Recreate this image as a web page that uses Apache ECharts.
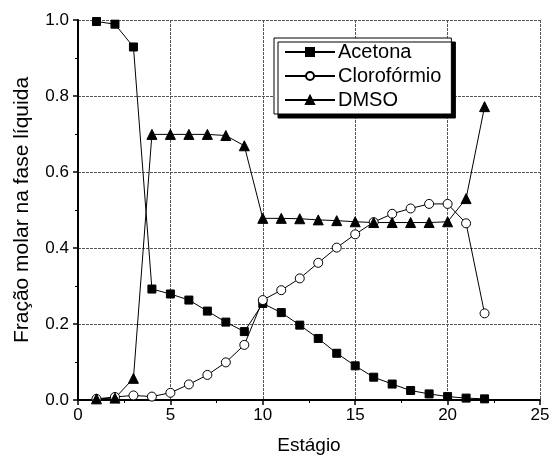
<!DOCTYPE html>
<html>
<head>
<meta charset="utf-8">
<script src="https://cdn.jsdelivr.net/npm/echarts@6/dist/echarts.min.js"></script>
<style>html,body{margin:0;padding:0;background:#fff}#c{width:554px;height:462px}</style>
</head>
<body>
<div id="c"></div>
<script>
const stages = [1,2,3,4,5,6,7,8,9,10,11,12,13,14,15,16,17,18,19,20,21,22];
const acetona = [0.996,0.989,0.929,0.292,0.279,0.263,0.234,0.205,0.180,0.254,0.230,0.197,0.162,0.123,0.090,0.060,0.042,0.025,0.016,0.009,0.005,0.003];
const cloroformio = [0.003,0.008,0.012,0.009,0.019,0.041,0.066,0.099,0.145,0.263,0.289,0.320,0.361,0.401,0.436,0.468,0.490,0.504,0.516,0.516,0.465,0.228];
const dmso = [0.003,0.005,0.057,0.699,0.699,0.699,0.699,0.696,0.669,0.478,0.478,0.477,0.474,0.472,0.469,0.467,0.467,0.467,0.467,0.469,0.530,0.772];
const xTicks = [0,5,10,15,20,25];
const yTicks = [0,0.2,0.4,0.6,0.8,1.0];

const font = 'Liberation Sans, Arial, sans-serif';
function pairs(ys){ return stages.map((s,i)=>[s, ys[i]]); }

const chart = echarts.init(document.getElementById('c'), null, {renderer:'canvas'});
const gridLine = {show:true, lineStyle:{color:'#555', width:1, type:[3,1]}};
chart.setOption({
  animation:false,
  backgroundColor:'#fff',
  grid:{left:78, right:14, top:20, bottom:62},
  legend:{
    left:274, top:38, orient:'vertical',
    itemWidth:50, itemHeight:10, itemGap:4,
    padding:[4,10,4,10],
    backgroundColor:'#fff', borderColor:'#000', borderWidth:1,
    shadowColor:'#000', shadowOffsetX:4, shadowOffsetY:4, shadowBlur:0,
    textStyle:{fontFamily:font, fontSize:20, color:'#000', padding:[0,0,0,-2]},
    data:['Acetona','Clorofórmio','DMSO']
  },
  xAxis:{
    type:'value', min:xTicks[0], max:xTicks[xTicks.length-1], interval:5,
    name:'Estágio', nameLocation:'middle', nameGap:36,
    nameTextStyle:{fontFamily:font, fontSize:19, color:'#000'},
    axisLine:{show:true, onZero:false, lineStyle:{color:'#000', width:2}},
    axisTick:{show:true, length:5, lineStyle:{color:'#000', width:1.5}},
    minorTick:{show:true, splitNumber:2, length:3, lineStyle:{color:'#000'}},
    axisLabel:{fontFamily:font, fontSize:17, color:'#000', margin:7},
    splitLine:gridLine
  },
  yAxis:{
    type:'value', min:yTicks[0], max:yTicks[yTicks.length-1], interval:0.2,
    name:'Fração molar na fase líquida', nameLocation:'middle', nameGap:45,
    nameTextStyle:{fontFamily:font, fontSize:21, color:'#000'},
    axisLine:{show:true, lineStyle:{color:'#000', width:2}},
    axisTick:{show:true, length:5, lineStyle:{color:'#000', width:1.5}},
    minorTick:{show:true, splitNumber:2, length:3, lineStyle:{color:'#000'}},
    axisLabel:{fontFamily:font, fontSize:17, color:'#000', margin:9, formatter:v=>v.toFixed(1)},
    splitLine:gridLine
  },
  series:[
    {name:'Acetona', type:'line', data:pairs(acetona), symbol:'rect', symbolSize:8,
     itemStyle:{color:'#000', borderColor:'#000', borderWidth:1}, lineStyle:{color:'#000', width:1}},
    {name:'Clorofórmio', type:'line', data:pairs(cloroformio), symbol:'circle', symbolSize:9,
     itemStyle:{color:'#fff', borderColor:'#000', borderWidth:1}, lineStyle:{color:'#000', width:1}},
    {name:'DMSO', type:'line', data:pairs(dmso), symbol:'triangle', symbolSize:10,
     itemStyle:{color:'#000', borderColor:'#000', borderWidth:1}, lineStyle:{color:'#000', width:1}}
  ]
});
</script>
</body>
</html>
